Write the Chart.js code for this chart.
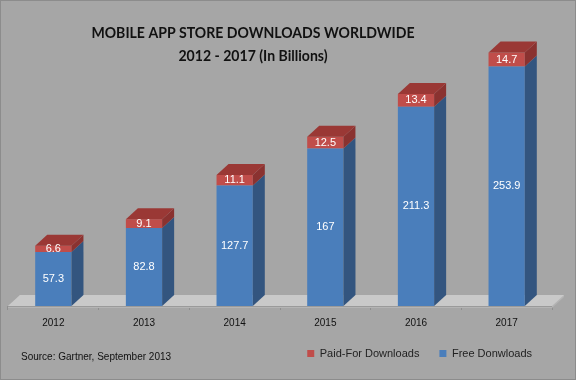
<!DOCTYPE html>
<html>
<head>
<meta charset="utf-8">
<script src="https://cdn.jsdelivr.net/npm/chart.js@4.4.0/dist/chart.umd.min.js"></script>
<style>
  html, body { margin: 0; padding: 0; background: #a6a6a6; }
  #wrap { width: 574px; height: 378px; border: 1px solid #8c8c8c; background: #a6a6a6; }
</style>
</head>
<body>
<div id="wrap"><canvas id="chart" width="574" height="378"></canvas></div>
<script>
// chart values
const years = ["2012", "2013", "2014", "2015", "2016", "2017"];
const freeDownloads = [57.3, 82.8, 127.7, 167, 211.3, 253.9];
const paidDownloads = [6.6, 9.1, 11.1, 12.5, 13.4, 14.7];
const titleLines = ["MOBILE APP STORE DOWNLOADS WORLDWIDE", "2012 - 2017 (In Billions)"];
const sourceNote = "Source: Gartner, September 2013";

const DX = 12, DY = -11; // 3d depth

const faceColors = [
    { side: "#33557f", top: "#3d679b" },
    { side: "#8a3230", top: "#9a3835" },
];

function poly(ctx, pts, fill) {
    ctx.beginPath();
    ctx.moveTo(pts[0][0], pts[0][1]);
    for (let i = 1; i < pts.length; i++) ctx.lineTo(pts[i][0], pts[i][1]);
    ctx.closePath();
    ctx.fillStyle = fill;
    ctx.fill();
}

// floor under the bars
const floorPlugin = {
    id: "floor",
    beforeDatasetsDraw(chart) {
        const { ctx, chartArea } = chart;
        const y = chart.scales.y.getPixelForValue(0);
        ctx.save();
        poly(ctx, [[chartArea.left, y + 2], [chartArea.left, y], [chartArea.left + DX, y + DY],
            [chartArea.right + DX, y + DY], [chartArea.right + DX, y + DY + 2], [chartArea.right, y + 2]], "#b4b4b4");
        poly(ctx, [[chartArea.left, y], [chartArea.left + DX, y + DY], [chartArea.right + DX, y + DY], [chartArea.right, y]], "#c9c9c9");
        ctx.strokeStyle = "#9a9a9a";
        ctx.lineWidth = 1;
        ctx.beginPath();
        ctx.moveTo(chartArea.left, y + 0.5);
        ctx.lineTo(chartArea.right, y + 0.5);
        ctx.stroke();
        ctx.restore();
    },
};

// side/top faces, value labels, title and source note
const depthPlugin = {
    id: "depth",
    afterDatasetsDraw(chart) {
        const ctx = chart.ctx;
        const last = chart.data.datasets.length - 1;
        ctx.save();
        chart.data.datasets.forEach((ds, di) => {
            chart.getDatasetMeta(di).data.forEach((bar) => {
                const { x, y, base, width } = bar.getProps(["x", "y", "base", "width"], true);
                const l = x - width / 2, r = x + width / 2;
                poly(ctx, [[r, y], [r + DX, y + DY], [r + DX, base + DY], [r, base]], faceColors[di].side);
                if (di === last) {
                    poly(ctx, [[l, y], [l + DX, y + DY], [r + DX, y + DY], [r, y]], faceColors[di].top);
                }
            });
        });
        ctx.font = "11px 'Liberation Sans', Arial, sans-serif";
        ctx.fillStyle = "#ffffff";
        ctx.textAlign = "center";
        ctx.textBaseline = "middle";
        chart.data.datasets.forEach((ds, di) => {
            chart.getDatasetMeta(di).data.forEach((bar, i) => {
                const { x, y, base } = bar.getProps(["x", "y", "base"], true);
                ctx.fillText(String(ds.data[i]), x, (y + base) / 2);
            });
        });
        ctx.restore();
    },
    afterDraw(chart) {
        const ctx = chart.ctx;
        ctx.save();
        ctx.fillStyle = "#111111";
        ctx.textAlign = "center";
        ctx.textBaseline = "alphabetic";
        ctx.font = "bold 16px Lato, 'Open Sans', sans-serif";
        // squeeze a little, the original face is narrower
        ctx.save();
        ctx.translate(252, 0);
        ctx.scale(0.88, 1);
        ctx.fillText(titleLines[0], 0, 37);
        ctx.fillText(titleLines[1], 0, 60);
        ctx.restore();
        ctx.textAlign = "left";
        ctx.textBaseline = "middle";
        ctx.font = "10px 'Liberation Sans', Arial, sans-serif";
        ctx.fillText(sourceNote, 20, 356);
        ctx.restore();
    },
};

new Chart(document.getElementById("chart").getContext("2d"), {
    type: "bar",
    data: {
        labels: years,
        datasets: [
            {
                label: "Free Donwloads",
                data: freeDownloads,
                backgroundColor: "#4a7ebb",
            },
            {
                label: "Paid-For Downloads",
                data: paidDownloads,
                backgroundColor: "#c04d4a",
            },
        ],
    },
    options: {
        responsive: false,
        animation: false,
        layout: { padding: { left: 7, right: 23, top: 22, bottom: 10 } },
        datasets: { bar: { barPercentage: 0.4, categoryPercentage: 1 } },
        scales: {
            x: {
                stacked: true,
                border: { display: false },
                grid: { drawOnChartArea: false, tickLength: 4, color: "#8f8f8f" },
                ticks: { color: "#111", padding: 7, font: { family: "'Liberation Sans', Arial", size: 10 } },
                // axis box is a bit taller than needed, pull the legend closer
                afterFit: (scale) => { scale.height = scale.height - 8; },
            },
            y: { stacked: true, display: false, min: 0, max: 300 },
        },
        plugins: {
            legend: {
                position: "bottom",
                align: "end",
                reverse: true,
                labels: {
                    boxWidth: 7,
                    boxHeight: 7,
                    padding: 20,
                    color: "#222",
                    font: { family: "'Liberation Sans', Arial", size: 11 },
                },
            },
            tooltip: { enabled: false },
        },
    },
    plugins: [floorPlugin, depthPlugin],
});
</script>
</body>
</html>
